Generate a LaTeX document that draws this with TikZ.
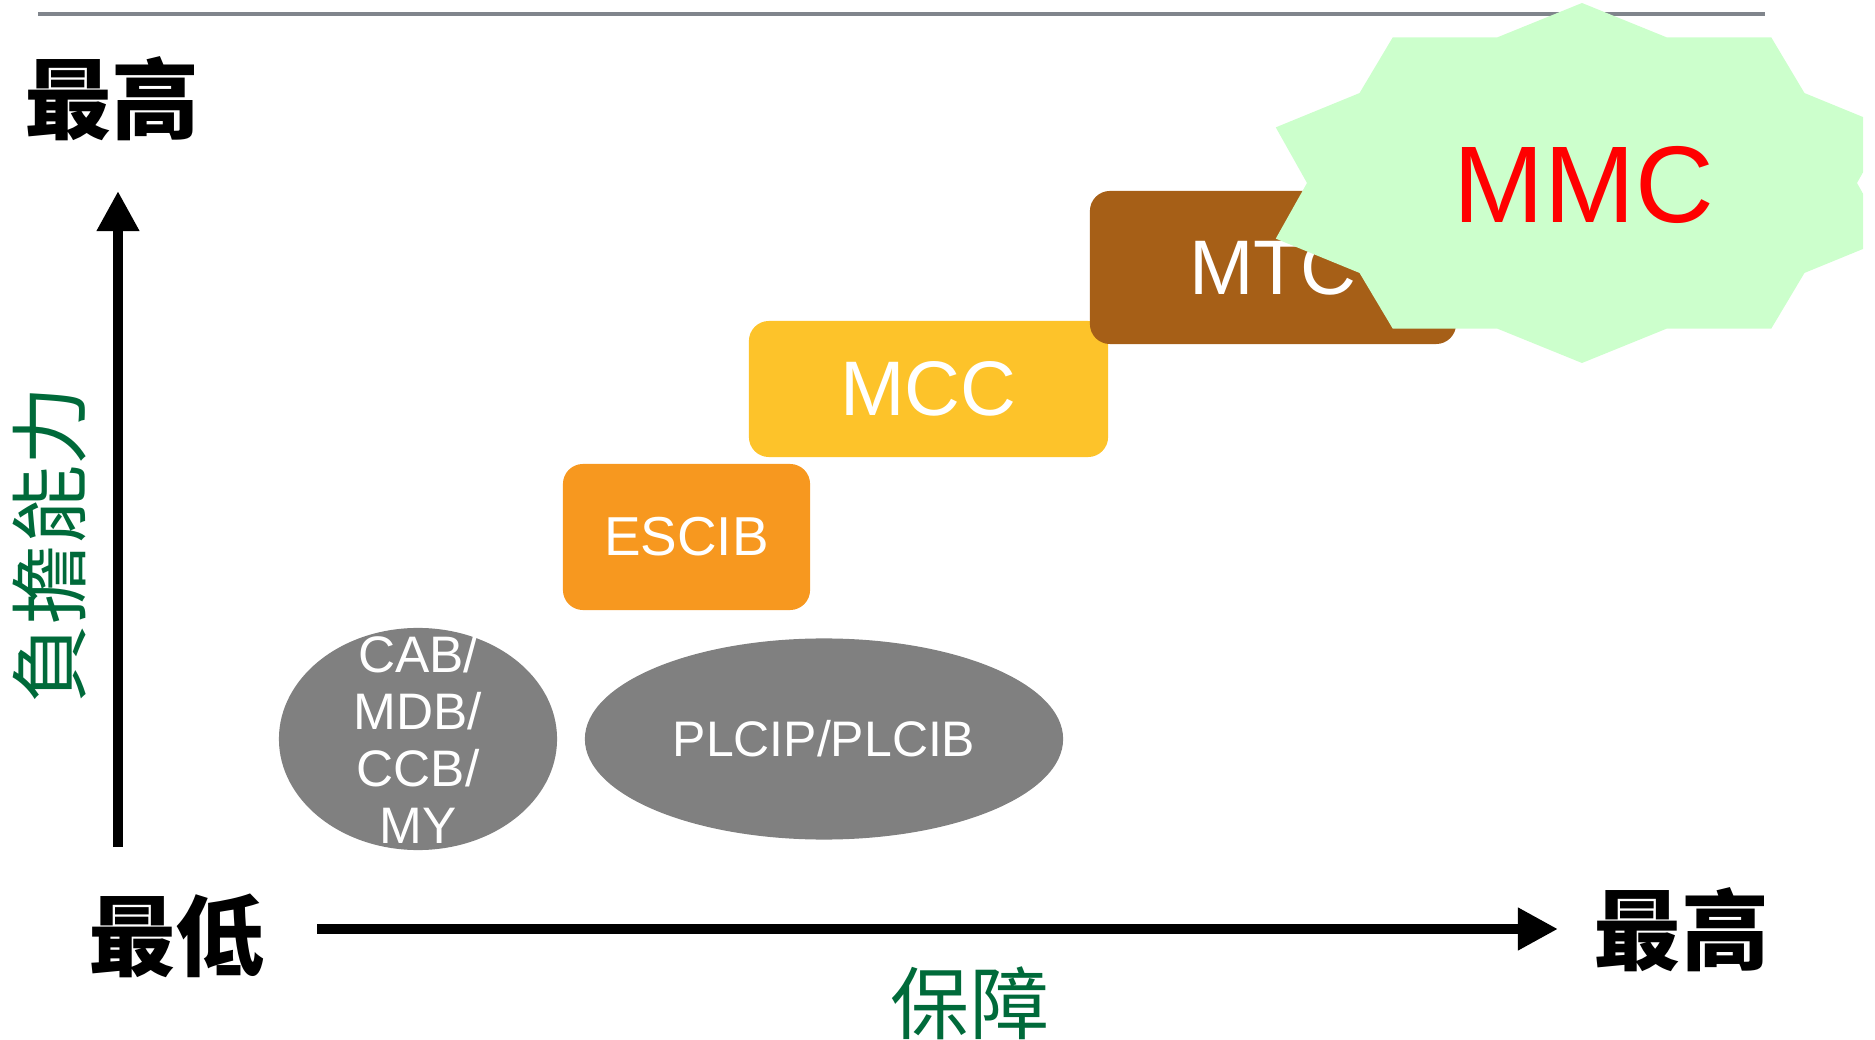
\documentclass[tikz,border=0pt]{standalone}
\usepackage{fontspec}
\setmainfont{Liberation Sans}
\newfontfamily\cjk{Noto Sans CJK TC}
\usetikzlibrary{arrows.meta,shapes.geometric}

\definecolor{verdeosc}{RGB}{0,106,58}
\definecolor{verdeclaro}{RGB}{204,255,204}
\definecolor{naranja}{RGB}{247,152,31}
\definecolor{amarillo}{RGB}{253,195,42}
\definecolor{marron}{RGB}{166,95,23}
\definecolor{grisoval}{RGB}{128,128,128}
\definecolor{grislinea}{RGB}{128,133,140}

\begin{document}
\begin{tikzpicture}[x=0.01cm,y=-0.01cm,
    caja/.style={rectangle, rounded corners=5.7pt, inner sep=0pt, text=white},
    ovalo/.style={ellipse, fill=grisoval, inner sep=0pt},
    eje/.style={line width=3.1pt, -{Triangle[length=11.4pt,width=11.4pt]}},
    extremo/.style={font=\cjk\bfseries\fontsize{25}{25}\selectfont, inner sep=0pt},
    titulo/.style={font=\cjk\fontsize{22.5}{22.5}\selectfont, text=verdeosc, inner sep=0pt}]

    % marco
    \useasboundingbox (0,0) rectangle (1875,1040);
    \clip (0,0) rectangle (1875,1040);

    % linea superior
    \coordinate (lineaini) at (38,14);
    \coordinate (lineafin) at (1765,14);
    \draw[grislinea, line width=0.9pt] (lineaini) -- (lineafin);

    % eje vertical
    \coordinate (origeny) at (118,847);
    \coordinate (finy) at (118,191);
    \draw[eje] (origeny) -- (finy);

    % eje horizontal
    \coordinate (origenx) at (317,929);
    \coordinate (finx) at (1558,929);
    \draw[eje] (origenx) -- (finx);

    % etiquetas de los ejes
    \node[extremo] (maxy) at (112,99) {最高};
    \node[extremo] (minimo) at (176,936) {最低};
    \node[extremo] (maxx) at (1681,930) {最高};
    \node[titulo] (proteccion) at (970,1003) {保障};
    \node[titulo, rotate=90] (capacidad) at (50,545) {負擔能力};

    % ovalos grises
    \node[ovalo, minimum width=2.78cm, minimum height=2.22cm] (ovizq) at (418,739) {};
    \node[text=white, align=center, inner sep=0pt, font=\fontsize{14.6}{16.2}\selectfont]
        (txtizq) at (ovizq.center) {CAB/\\MDB/\\CCB/\\MY};
    \node[ovalo, minimum width=4.78cm, minimum height=2.01cm,
        text=white, font=\fontsize{14.2}{14.2}\selectfont] (ovder) at (824,739) {PLCIP/PLCIB};

    % cajas
    \node[caja, fill=naranja, minimum width=2.47cm, minimum height=1.46cm,
        font=\fontsize{15.6}{15.6}\selectfont] (escib) at (686.5,537) {ESCIB};
    \node[caja, fill=amarillo, minimum width=3.59cm, minimum height=1.36cm,
        font=\fontsize{22}{22}\selectfont] (mcc) at (928.5,389) {MCC};
    \node[caja, fill=marron, minimum width=3.66cm, minimum height=1.53cm,
        font=\fontsize{22}{22}\selectfont] (mtc) at (1273,267.5) {MTC};

    % estrella (cortada a la derecha)
    \begin{scope}
        \clip (0,0) rectangle (1863,1040);
        \fill[verdeclaro] plot[samples at={0,...,19}, variable=\k]
            ({1582+(mod(\k,2)==0 ? 322 : 275)*cos(90+18*\k)},
             {183-(mod(\k,2)==0 ? 180 : 153)*sin(90+18*\k)}) -- cycle;
    \end{scope}
    \node[text=red, inner sep=0pt, font=\fontsize{31}{31}\selectfont] (mmc) at (1584,185) {MMC};

\end{tikzpicture}
\end{document}
